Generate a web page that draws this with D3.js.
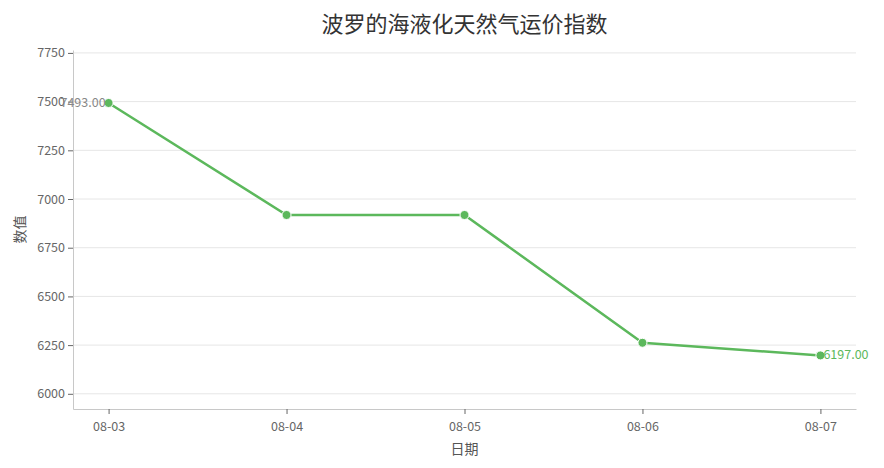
<!DOCTYPE html>
<html>
<head>
<meta charset="utf-8">
<script src="https://cdn.jsdelivr.net/npm/d3@7"></script>
<style>
  body { margin: 0; background: #fff; }
  text { font-family: "Noto Sans CJK SC", "Noto Sans", sans-serif; }
</style>
</head>
<body>
<div id="chart"></div>
<script>
// data
const dates = ["08-03", "08-04", "08-05", "08-06", "08-07"];
const values = [7493, 6918, 6918, 6262, 6197];
const yTicks = [6000, 6250, 6500, 6750, 7000, 7250, 7500, 7750];

const width = 884, height = 468;
const plotLeft = 73, plotRight = 856, plotTop = 50, plotBottom = 409;
const green = "#5cb85c";

const svg = d3.select("#chart").append("svg")
    .attr("width", width)
    .attr("height", height);

// scales
const x = d3.scalePoint().domain(dates).range([plotLeft, plotRight]).padding(0.2);
const y = d3.scaleLinear().domain([5922, 7765]).range([plotBottom, plotTop]);

// grid lines
svg.append("g")
    .selectAll("line")
    .data(yTicks).enter()
    .append("line")
    .attr("x1", plotLeft)
    .attr("x2", plotRight)
    .attr("y1", d => y(d))
    .attr("y2", d => y(d))
    .attr("stroke", "#e6e6e6")
    .attr("stroke-width", 1);

// axes
const yAxis = d3.axisLeft(y).tickValues(yTicks).tickFormat(d3.format("d"))
    .tickSize(5).tickPadding(3).tickSizeOuter(0);
const xAxis = d3.axisBottom(x).tickSize(5).tickPadding(8).tickSizeOuter(0);

const gy = svg.append("g").attr("transform", `translate(${plotLeft},0)`).call(yAxis);
const gx = svg.append("g").attr("transform", `translate(0,${plotBottom})`).call(xAxis);

[gx, gy].forEach(g => {
  g.select(".domain").attr("stroke", "#c8c8c8");
  g.selectAll(".tick line").attr("stroke", "#666");
  g.selectAll(".tick text").attr("fill", "#666").style("font-size", "12.5px");
});

// title and axis labels
svg.append("text")
    .attr("x", (plotLeft + plotRight) / 2)
    .attr("y", 32)
    .attr("text-anchor", "middle")
    .style("font-size", "22px")
    .attr("fill", "#333")
    .text("波罗的海液化天然气运价指数");

svg.append("text")
    .attr("x", (plotLeft + plotRight) / 2)
    .attr("y", 454)
    .attr("text-anchor", "middle")
    .style("font-size", "14px")
    .attr("fill", "#555")
    .text("日期");

svg.append("text")
    .attr("transform", `translate(25,${(plotTop + plotBottom) / 2}) rotate(-90)`)
    .attr("text-anchor", "middle")
    .style("font-size", "14px")
    .attr("fill", "#555")
    .text("数值");

// line
const line = d3.line()
    .x((d, i) => x(dates[i]))
    .y(d => y(d));

svg.append("path")
    .datum(values)
    .attr("d", line)
    .attr("fill", "none")
    .attr("stroke", green)
    .attr("stroke-width", 2.5);

svg.append("g")
    .selectAll("circle")
    .data(values).enter()
    .append("circle")
    .attr("cx", (d, i) => x(dates[i]))
    .attr("cy", d => y(d))
    .attr("r", 4.5)
    .attr("fill", green)
    .attr("stroke", "#fff")
    .attr("stroke-width", 1);

// end labels
const last = values.length - 1;
svg.append("text")
    .attr("x", x(dates[0]) - 3)
    .attr("y", y(values[0]) + 4)
    .attr("text-anchor", "end")
    .style("font-size", "12.5px")
    .attr("fill", "#888")
    .text(values[0].toFixed(2));

svg.append("text")
    .attr("x", x(dates[last]) + 3)
    .attr("y", y(values[last]) + 4)
    .style("font-size", "12.5px")
    .attr("fill", green)
    .text(values[last].toFixed(2));
</script>
</body>
</html>
